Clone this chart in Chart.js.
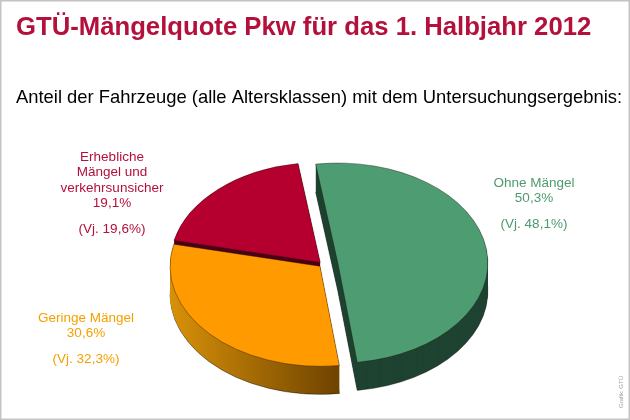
<!DOCTYPE html>
<html lang="de">
<head>
<meta charset="utf-8">
<title>GTÜ-Mängelquote Pkw 1. Halbjahr 2012</title>
<script src="https://cdn.jsdelivr.net/npm/chart.js@4.4.0/dist/chart.umd.min.js"></script>
<style>
  html, body { margin: 0; padding: 0; background: #fff; }
  #wrap { width: 630px; height: 420px; }
</style>
</head>
<body>
<div id="wrap"><canvas id="maengelChart" width="630" height="420"></canvas></div>
<script>
  // data read from the GTÜ graphic
  const categories = [['Ohne Mängel'], ['Geringe Mängel'], ['Erhebliche', 'Mängel und', 'verkehrsunsicher']];
  const shares2012 = [50.3, 30.6, 19.1];
  const sharesPrevYear = [48.1, 32.3, 19.6];

  // styling
  const topColors = ['#4e9d72', '#ff9a00', '#b5002f'];
  const sideColors = ['#1f4331', null, '#4d0016']; // orange side gets a gradient
  const textColors = ['#4e9a6e', '#f5a000', '#b3103b'];
  const labelSpots = [[534, 183], [86, 318], [112, 157]]; // centre x, first line y
  const explode = [15, 4, 4];

  const FLAT = 0.667;
  const DEPTH = 28;
  const FONT = '"Liberation Sans", Arial, sans-serif';

  function fmt(v) {
    return v.toFixed(1).replace('.', ',') + '%';
  }

  // draws the arcs squashed into an ellipse with a stacked side wall
  const pie3d = {
    id: 'pie3d',
    beforeDatasetsDraw(chart) {
      const ctx = chart.ctx;
      const arcs = chart.getDatasetMeta(0).data;
      const cx = arcs[0].x, cy = arcs[0].y;

      function drawArc(arc, i, dy, fill, stroke, bw) {
        const mid = (arc.startAngle + arc.endAngle) / 2;
        const fake = Object.create(arc);
        fake.options = Object.assign({}, arc.options, {
          backgroundColor: fill, borderColor: stroke, borderWidth: bw, offset: 0
        });
        ctx.save();
        ctx.translate(cx, cy + dy);
        ctx.scale(1, FLAT);
        ctx.translate(-cx, -cy);
        ctx.translate(Math.cos(mid) * explode[i], Math.sin(mid) * explode[i]);
        arc.draw.call(fake, ctx);
        ctx.restore();
      }

      const grad = ctx.createLinearGradient(cx - 150, 0, cx + 25, 0);
      grad.addColorStop(0, '#d89108');
      grad.addColorStop(1, '#6b4000');

      for (let k = DEPTH; k >= 1; k--) {
        arcs.forEach(function (arc, i) {
          drawArc(arc, i, k, sideColors[i] || grad, 'rgba(0,0,0,0.55)', k === DEPTH ? 1 : 0);
        });
      }
      arcs.forEach(function (arc, i) {
        drawArc(arc, i, 0, topColors[i], 'rgba(30,15,5,0.6)', 0.8);
      });
      return false;
    },
    afterDraw(chart) {
      const ctx = chart.ctx;
      ctx.save();
      ctx.font = '13.5px ' + FONT;
      ctx.textAlign = 'center';
      ctx.textBaseline = 'middle';
      categories.forEach(function (lines, i) {
        const x = labelSpots[i][0], y = labelSpots[i][1];
        const all = lines.concat([fmt(shares2012[i])]);
        ctx.fillStyle = textColors[i];
        all.forEach(function (t, j) {
          ctx.fillText(t, x, y + j * 15.4);
        });
        ctx.fillText('(Vj. ' + fmt(sharesPrevYear[i]) + ')', x, y + (all.length - 1) * 15.4 + 26);
      });

      // source note, rotated
      ctx.save();
      ctx.translate(621, 392);
      ctx.rotate(-Math.PI / 2);
      ctx.font = '6px ' + FONT;
      ctx.fillStyle = '#9a9a9a';
      ctx.fillText('Grafik: GTÜ', 0, 0);
      ctx.restore();

      // frame
      ctx.strokeStyle = '#c4c4c4';
      ctx.lineWidth = 1.5;
      ctx.strokeRect(0.75, 0.75, 628.5, 418.5);
      ctx.restore();
    }
  };

  new Chart(document.getElementById('maengelChart'), {
    type: 'pie',
    data: {
      labels: categories,
      datasets: [{
        data: shares2012,
        backgroundColor: topColors,
        borderWidth: 0,
        clip: false
      }]
    },
    options: {
      responsive: false,
      animation: false,
      rotation: -8.5,
      radius: 150,
      layout: { padding: { left: 16, right: -4, top: 0, bottom: -5 } },
      events: [],
      plugins: {
        legend: { display: false },
        tooltip: { enabled: false },
        title: {
          display: true,
          text: 'GTÜ-Mängelquote Pkw für das 1. Halbjahr 2012',
          align: 'start',
          color: '#b3103b',
          font: { family: FONT, size: 25.7, weight: 'bold' },
          padding: { top: 12, bottom: 44 }
        },
        subtitle: {
          display: true,
          text: 'Anteil der Fahrzeuge (alle Altersklassen) mit dem Untersuchungsergebnis:',
          align: 'start',
          color: '#000',
          font: { family: FONT, size: 18.4 },
          padding: { top: 0, bottom: 0 }
        }
      }
    },
    plugins: [pie3d]
  });
</script>
</body>
</html>
